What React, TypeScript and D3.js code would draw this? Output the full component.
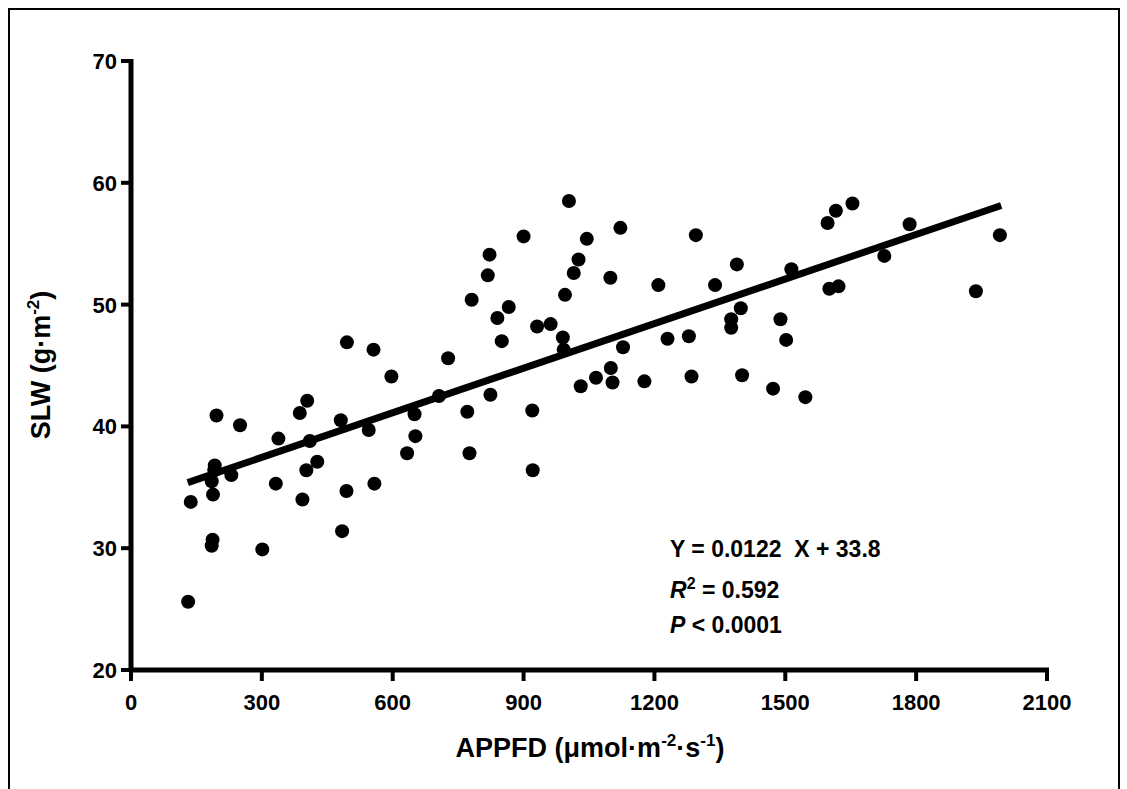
import React from "react";
import * as d3 from "d3";

const xs = [131,137,188,185,192,191,230,196,250,187,185,301,338,332,387,404,410,427,402,393,484,495,494,481,556,545,558,597,650,652,633,706,727,771,776,824,781,840,866,850,920,921,931,962,990,992,995,818,822,900,
1004,1122,1045,1026,1015,1099,1295,1209,1339,1389,1514,1597,1616,1654,1785,1727,1601,1622,1937,1992,1398,1376,1376,1489,1502,1279,1230,1128,1100,1066,1031,1104,1177,1285,1401,1472,1546];
const ys = [25.6,33.8,34.4,35.5,36.8,36.4,36.0,40.9,40.1,30.7,30.2,29.9,39.0,35.3,41.1,42.1,38.8,37.1,36.4,34.0,31.4,46.9,34.7,40.5,46.3,39.7,35.3,44.1,41.0,39.2,37.8,42.5,45.6,41.2,37.8,42.6,50.4,48.9,49.8,47.0,41.3,36.4,48.2,48.4,47.3,46.3,50.8,52.4,54.1,55.6,
58.5,56.3,55.4,53.7,52.6,52.2,55.7,51.6,51.6,53.3,52.9,56.7,57.7,58.3,56.6,54.0,51.3,51.5,51.1,55.7,49.7,48.8,48.1,48.8,47.1,47.4,47.2,46.5,44.8,44.0,43.3,43.6,43.7,44.1,44.2,43.1,42.4];
const xTicks = [0,300,600,900,1200,1500,1800,2100];
const yTicks = [20,30,40,50,60,70];
const slope = 0.0122, intercept = 33.8;
const fitRange = [130, 1995];

export default function App() {
  const x = d3.scaleLinear().domain([0, 2100]).range([131, 1047]);
  const y = d3.scaleLinear().domain([20, 70]).range([670, 61]);
  const F = "'Liberation Sans', Arial, sans-serif";
  return (
    <svg width={1127} height={789} style={{ position: "absolute", left: 0, top: 0 }} fontFamily={F} fontWeight="bold">
      <rect x={0} y={0} width={1127} height={789} fill="#fff" />
      <path d="M9,789 V9 H1119 V789" fill="none" stroke="#000" strokeWidth={2} />
      {xs.map((v, i) => <circle key={i} cx={x(v)} cy={y(ys[i])} r={7} fill="#000" />)}
      <line x1={x(fitRange[0])} y1={y(slope * fitRange[0] + intercept)} x2={x(fitRange[1])} y2={y(slope * fitRange[1] + intercept)} stroke="#000" strokeWidth={7} />
      <line x1={131} y1={59} x2={131} y2={672} stroke="#000" strokeWidth={5} />
      <line x1={129} y1={670} x2={1049} y2={670} stroke="#000" strokeWidth={5} />
      {yTicks.map(t => (
        <g key={t}>
          <line x1={121} x2={131} y1={y(t)} y2={y(t)} stroke="#000" strokeWidth={4} />
          <text x={117} y={y(t) + 8} textAnchor="end" fontSize={22}>{t}</text>
        </g>
      ))}
      {xTicks.map(t => (
        <g key={t}>
          <line x1={x(t)} x2={x(t)} y1={670} y2={681} stroke="#000" strokeWidth={4} />
          <text x={x(t)} y={710} textAnchor="middle" fontSize={22}>{t}</text>
        </g>
      ))}
      <text x={590} y={757} textAnchor="middle" fontSize={27}>
        APPFD (μmol·m<tspan dy={-11} fontSize={17}>-2</tspan><tspan dy={11}>·s</tspan><tspan dy={-11} fontSize={17}>-1</tspan><tspan dy={11}>)</tspan>
      </text>
      <text transform="translate(50,365) rotate(-90)" textAnchor="middle" fontSize={27}>
        SLW (g·m<tspan dy={-11} fontSize={17}>-2</tspan><tspan dy={11}>)</tspan>
      </text>
      <text x={670} y={557} fontSize={23} style={{ whiteSpace: "pre" }}>{"Y = 0.0122  X + 33.8"}</text>
      <text x={670} y={598} fontSize={23}><tspan fontStyle="italic">R</tspan><tspan dy={-9} fontSize={16}>2</tspan><tspan dy={9}> = 0.592</tspan></text>
      <text x={670} y={633} fontSize={23}><tspan fontStyle="italic">P</tspan> &lt; 0.0001</text>
    </svg>
  );
}
